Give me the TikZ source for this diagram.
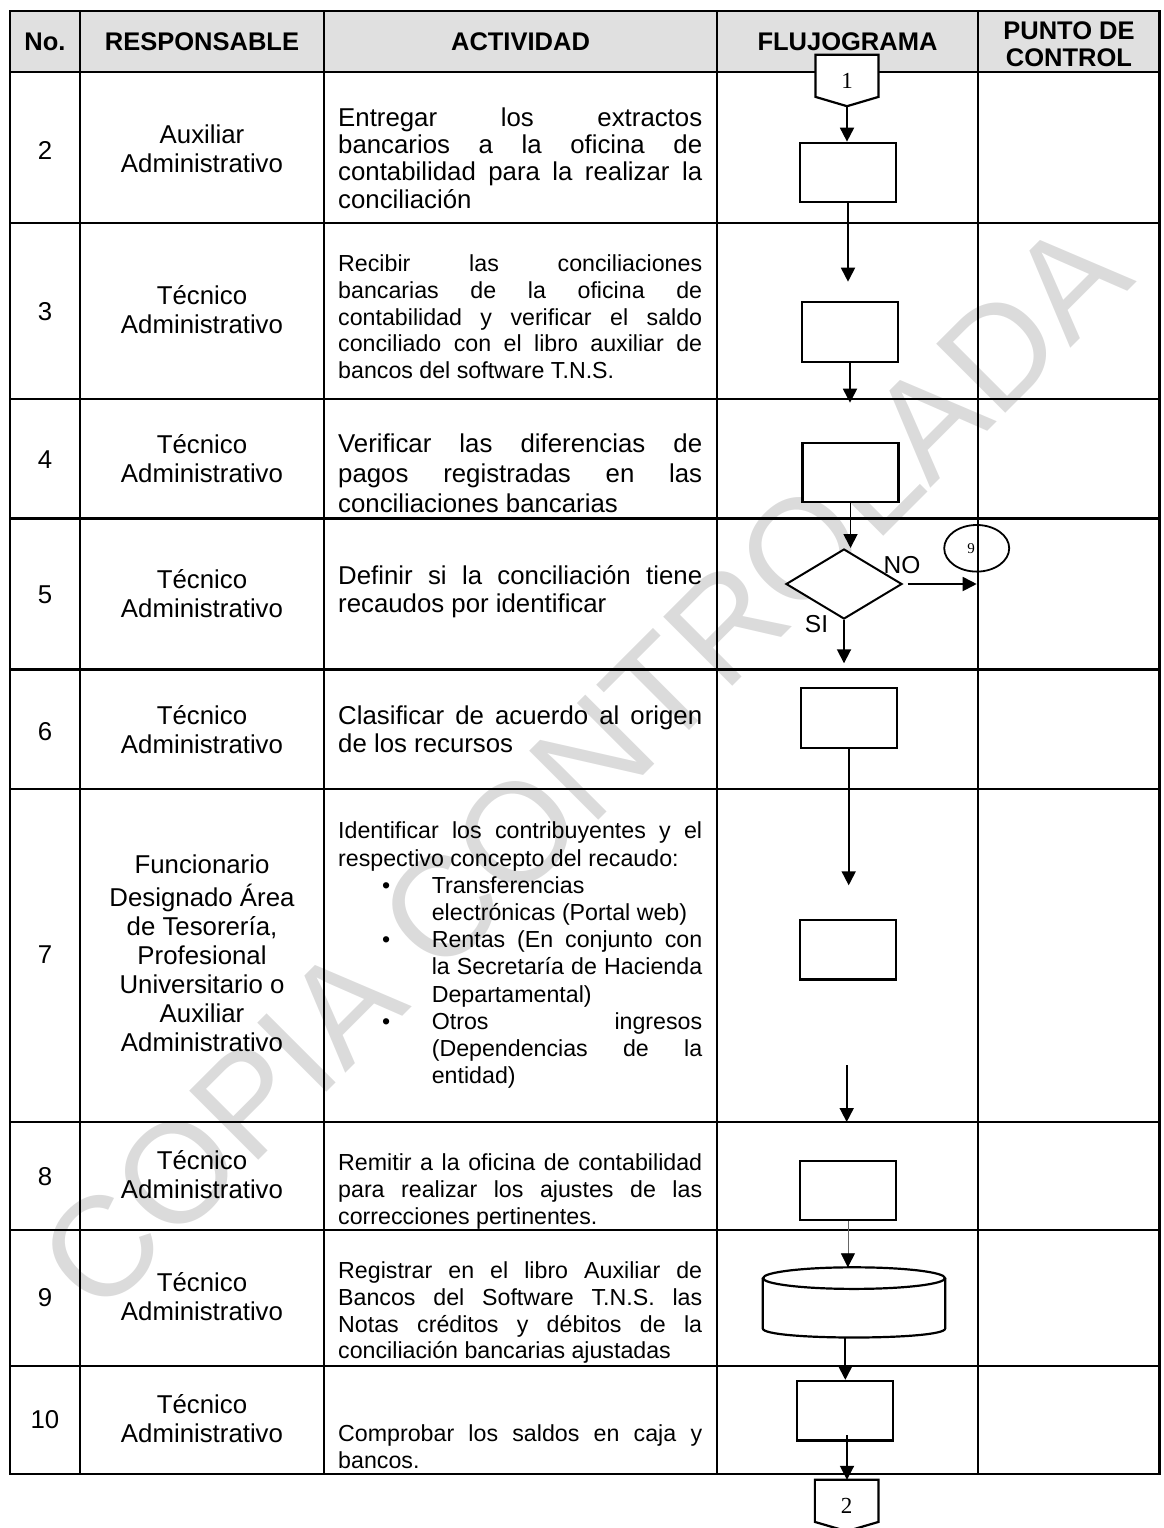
\documentclass[tikz,border=0pt]{standalone}
\usepackage{fontspec}
\setmainfont{Liberation Sans}
\newfontfamily\serifdigits{Liberation Serif}
\usetikzlibrary{arrows.meta,shapes.geometric}
\definecolor{hdrfill}{RGB}{224,224,224}
\newcommand\actJ[1]{\makebox[364pt][s]{\strut #1}}
\newcommand\actN[1]{\strut #1}
\newcommand\bulletbox{\makebox[93.6pt][l]{\hspace*{44pt}\textbullet}}
\newcommand\actBJ[1]{\bulletbox\makebox[270.4pt][s]{\strut #1}}
\newcommand\actBN[1]{\bulletbox\strut #1}
\newcommand\actIJ[1]{\hspace*{93.6pt}\makebox[270.4pt][s]{\strut #1}}
\newcommand\actIN[1]{\hspace*{93.6pt}\strut #1}
\tikzset{
  tline/.style={line width=2.6pt},
  shapeline/.style={line width=2.2pt},
  fbox/.style={draw, line width=2.2pt, fill=white, inner sep=0pt, minimum width=96pt, minimum height=59.5pt},
  flow/.style={line width=1.8pt, -{Triangle[length=14pt,width=14pt]}},
  thinflow/.style={line width=0.8pt, draw=black!60, -{Triangle[length=14pt,width=14pt,color=black]}},
  hdr/.style={font=\bfseries\fontsize{25.5}{27}\selectfont, inner sep=0pt, align=center},
  num/.style={font=\fontsize{25.8}{29}\selectfont, inner sep=0pt},
  resp/.style={font=\fontsize{25.8}{29}\selectfont, inner sep=0pt, align=center},
  act/.style={anchor=north west, inner sep=0pt, align=left},
}
\begin{document}
\begin{tikzpicture}[x=1pt,y=-1pt]
\useasboundingbox (0,0) rectangle (1163,1528);
% watermark
\node[rotate=45, text=black!14, font=\fontsize{142}{142}\selectfont, inner sep=0pt] (wm) at (584,766) {COPIA CONTROLADA};
% header background
\fill[hdrfill] (10,11) rectangle (1159.5,72);
% grid
\draw[tline] (10,11) rectangle (1159.5,1474);
\foreach \xx in {80,324,717,978} \draw[tline] (\xx,11) -- (\xx,1474);
\foreach \yy in {72,223,399,518.5,669.5,789,1122,1230,1366} \draw[tline] (10,\yy) -- (1159.5,\yy);
% header
\node[hdr] (hno) at (45,41.5) {No.};
\node[hdr] (hresp) at (202,41.5) {RESPONSABLE};
\node[hdr] (hact) at (520.5,41.5) {ACTIVIDAD};
\node[hdr] (hflu) at (847.5,41.5) {FLUJOGRAMA};
\node[hdr] (hpc) at (1069,47.2) {\strut PUNTO DE\\\strut CONTROL};
% numbers
\node[num] (n2) at (45,150) {2};
\node[num] (n3) at (45,311.7) {3};
\node[num] (n4) at (45,460) {4};
\node[num] (n5) at (45,595) {5};
\node[num] (n6) at (45,731.7) {6};
\node[num] (n7) at (45,955) {7};
\node[num] (n8) at (45,1176.7) {8};
\node[num] (n9) at (45,1298) {9};
\node[num] (n10) at (45,1420) {10};
% responsible
\node[resp] (r2) at (202,152.5) {\strut Auxiliar\\\strut Administrativo};
\node[resp] (r3) at (202,313.4) {\strut Técnico\\\strut Administrativo};
\node[resp] (r4) at (202,461.7) {\strut Técnico\\\strut Administrativo};
\node[resp] (r5) at (202,597.5) {\strut Técnico\\\strut Administrativo};
\node[resp] (r6) at (202,732.7) {\strut Técnico\\\strut Administrativo};
\node[resp] (r7) at (202,956.7) {\strut Funcionario\\\strut Designado Área\\\strut de Tesorería,\\\strut Profesional\\\strut Universitario o\\\strut Auxiliar\\\strut Administrativo};
\node[resp] (r8) at (202,1178.4) {\strut Técnico\\\strut Administrativo};
\node[resp] (r9) at (202,1299.7) {\strut Técnico\\\strut Administrativo};
\node[resp] (r10) at (202,1421.7) {\strut Técnico\\\strut Administrativo};
% activities
\node[act, font=\fontsize{25.8}{27}\selectfont] (a2) at (338,107.6) {\actJ{Entregar los extractos}\\\actJ{bancarios a la oficina de}\\\actJ{contabilidad para la realizar la}\\\actN{conciliación}};
\node[act, font=\fontsize{23.2}{26.7}\selectfont] (a3) at (338,253) {\actJ{Recibir las conciliaciones}\\\actJ{bancarias de la oficina de}\\\actJ{contabilidad y verificar el saldo}\\\actJ{conciliado con el libro auxiliar de}\\\actN{bancos del software T.N.S.}};
\node[act, font=\fontsize{25.8}{30}\selectfont] (a4) at (338,431.5) {\actJ{Verificar las diferencias de}\\\actJ{pagos registradas en las}\\\actN{conciliaciones bancarias}};
\node[act, font=\fontsize{25.8}{28.3}\selectfont] (a5) at (338,564.4) {\actJ{Definir si la conciliación tiene}\\\actN{recaudos por identificar}};
\node[act, font=\fontsize{25.8}{28.3}\selectfont] (a6) at (338,704.4) {\actJ{Clasificar de acuerdo al origen}\\\actN{de los recursos}};
\node[act, font=\fontsize{23.2}{27.2}\selectfont] (a7) at (338,819.7) {\actJ{Identificar los contribuyentes y el}\\\actN{respectivo concepto del recaudo:}\\\actBN{Transferencias}\\\actIN{electrónicas (Portal web)}\\\actBJ{Rentas (En conjunto con}\\\actIJ{la Secretaría de Hacienda}\\\actIN{Departamental)}\\\actBJ{Otros ingresos}\\\actIJ{(Dependencias de la}\\\actIN{entidad)}};
\node[act, font=\fontsize{23.2}{27.3}\selectfont] (a8) at (338,1150.9) {\actJ{Remitir a la oficina de contabilidad}\\\actJ{para realizar los ajustes de las}\\\actN{correcciones pertinentes.}};
\node[act, font=\fontsize{23.2}{26.7}\selectfont] (a9) at (338,1259.7) {\actJ{Registrar en el libro Auxiliar de}\\\actJ{Bancos del Software T.N.S. las}\\\actJ{Notas créditos y débitos de la}\\\actN{conciliación bancarias ajustadas}};
\node[act, font=\fontsize{23.2}{26.7}\selectfont] (a10) at (338,1423) {\actJ{Comprobar los saldos en caja y}\\\actN{bancos.}};
% flowchart shapes
\node[inner sep=0pt, minimum width=62.6pt, minimum height=51pt] (con1) at (847,80.5) {};
\draw[shapeline, fill=white] (con1.north west) -- (con1.north east) -- ([yshift=9.3pt]con1.south east) -- (con1.south) -- ([yshift=9.3pt]con1.south west) -- cycle;
\node[font=\serifdigits\fontsize{23}{23}\selectfont, inner sep=0pt] (con1lbl) at (con1) {1};
\node[fbox] (b2) at (848,172.5) {};
\node[fbox] (b3) at (850,332) {};
\node[fbox] (b4) at (850.5,472.4) {};
\node[draw, diamond, line width=2pt, fill=white, minimum width=116pt, minimum height=70pt, inner sep=0pt] (dia) at (844,584) {};
\node[draw, ellipse, line width=1.8pt, minimum width=65pt, minimum height=46.6pt, inner sep=0pt] (e9) at (976.7,548.3) {};
\node[font=\serifdigits\fontsize{15}{15}\selectfont, inner sep=0pt] (e9lbl) at (971,549) {9};
\node[font=\fontsize{24.5}{24.5}\selectfont, inner sep=0pt] (lno) at (902,565) {NO};
\node[font=\fontsize{24.5}{24.5}\selectfont, inner sep=0pt] (lsi) at (816.5,624.5) {SI};
\node[fbox] (b6) at (848.7,718) {};
\node[fbox] (b7) at (847.9,949.7) {};
\node[fbox] (b8) at (847.9,1190.4) {};
\node[inner sep=0pt, minimum width=182pt, minimum height=69.8pt] (cyl) at (854,1302.4) {};
\draw[shapeline, fill=white] ([yshift=-10.8pt]cyl.north west) -- ([yshift=9pt]cyl.south west) .. controls +(0,-12pt) and +(0,-12pt) .. ([yshift=9pt]cyl.south east) -- ([yshift=-10.8pt]cyl.north east);
\draw[shapeline, fill=white] ([yshift=-10.8pt]cyl.north) ellipse [x radius=91pt, y radius=10.8pt];
\node[fbox] (b10) at (845.3,1410.7) {};
\node[inner sep=0pt, minimum width=63.3pt, minimum height=51pt] (con2) at (846.7,1505.5) {};
\draw[shapeline, fill=white] (con2.north west) -- (con2.north east) -- ([yshift=9.3pt]con2.south east) -- (con2.south) -- ([yshift=9.3pt]con2.south west) -- cycle;
\node[font=\serifdigits\fontsize{23}{23}\selectfont, inner sep=0pt] (con2lbl) at (846.7,1506) {2};
% connectors
\coordinate (c2) at (848,281.7);
\coordinate (c3) at (850,402.7);
\coordinate (cno) at (976.7,584);
\coordinate (csi) at (844,663.3);
\coordinate (c6) at (848.7,885.3);
\coordinate (c7a) at (846.7,1065);
\coordinate (c7b) at (846.7,1122);
\coordinate (c10) at (847,1435);
\draw[flow] (con1.south) -- (con1.south |- b2.north);
\draw[flow] (b2.south) -- (c2);
\draw[flow] (b3.south) -- (c3);
\draw[flow] (b4.south) -- (b4.south |- dia.north);
\draw[flow] ([xshift=4.5pt]dia.east) -- (cno);
\draw[flow] (dia.south) -- (csi);
\draw[flow] (b6.south) -- (c6);
\draw[flow] (c7a) -- (c7b);
\draw[thinflow] (b8.south) -- (b8.south |- cyl.north);
\draw[flow] (b10.north |- cyl.south) -- (b10.north);
\draw[flow] (c10) -- (c10 |- con2.north);
\end{tikzpicture}
\end{document}
